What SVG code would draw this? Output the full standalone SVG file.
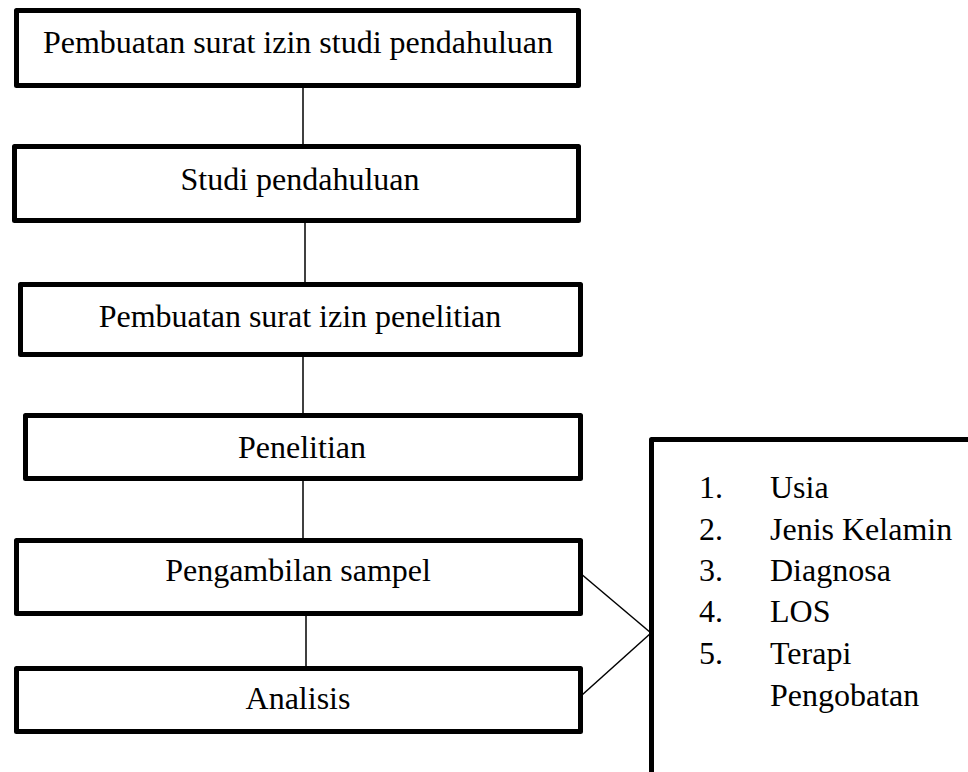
<svg xmlns="http://www.w3.org/2000/svg" width="968" height="772" viewBox="0 0 968 772">
<style>
.box{fill:#fff;stroke:#000;stroke-width:5;stroke-linejoin:round}
.lbl{font-family:"Liberation Serif","Times New Roman",serif;font-size:32px;fill:#000}
.c{text-anchor:middle}
.con{stroke:#000;stroke-width:1.5;fill:none}
</style>
<rect width="968" height="772" fill="#fff"/>
<g id="connectors">
<line class="con" x1="303" y1="88" x2="303" y2="144"/>
<line class="con" x1="305" y1="223" x2="305" y2="282"/>
<line class="con" x1="303" y1="356" x2="303" y2="413"/>
<line class="con" x1="303" y1="481" x2="303" y2="538"/>
<line class="con" x1="306" y1="603" x2="306" y2="666"/>
<line class="con" x1="580" y1="573" x2="651" y2="633"/>
<line class="con" x1="582" y1="695" x2="651" y2="633"/>
</g>
<g id="n1">
<rect class="box" x="16.5" y="10.5" width="562" height="75"/>
<text class="lbl c" x="298" y="53">Pembuatan surat izin studi pendahuluan</text>
</g>
<g id="n2">
<rect class="box" x="14.5" y="146.5" width="564" height="74"/>
<text class="lbl c" x="300" y="190">Studi pendahuluan</text>
</g>
<g id="n3">
<rect class="box" x="20.5" y="284.5" width="560" height="70"/>
<text class="lbl c" x="300" y="327">Pembuatan surat izin penelitian</text>
</g>
<g id="n4">
<rect class="box" x="25.5" y="415.5" width="555" height="63"/>
<text class="lbl c" x="302" y="458">Penelitian</text>
</g>
<g id="n5">
<rect class="box" x="16.5" y="540.5" width="564" height="73"/>
<text class="lbl c" x="298" y="581">Pengambilan sampel</text>
</g>
<g id="n6">
<rect class="box" x="16.5" y="668.5" width="564" height="63"/>
<text class="lbl c" x="298" y="709">Analisis</text>
</g>
<g id="n7">
<rect class="box" x="651.5" y="439.5" width="400" height="400"/>
<text class="lbl" x="699" y="498">1.</text><text class="lbl" x="770" y="498">Usia</text>
<text class="lbl" x="699" y="540">2.</text><text class="lbl" x="770" y="540">Jenis Kelamin</text>
<text class="lbl" x="699" y="581">3.</text><text class="lbl" x="770" y="581">Diagnosa</text>
<text class="lbl" x="699" y="622">4.</text><text class="lbl" x="770" y="622">LOS</text>
<text class="lbl" x="699" y="664">5.</text><text class="lbl" x="770" y="664">Terapi</text>
<text class="lbl" x="770" y="706">Pengobatan</text>
</g>
</svg>
